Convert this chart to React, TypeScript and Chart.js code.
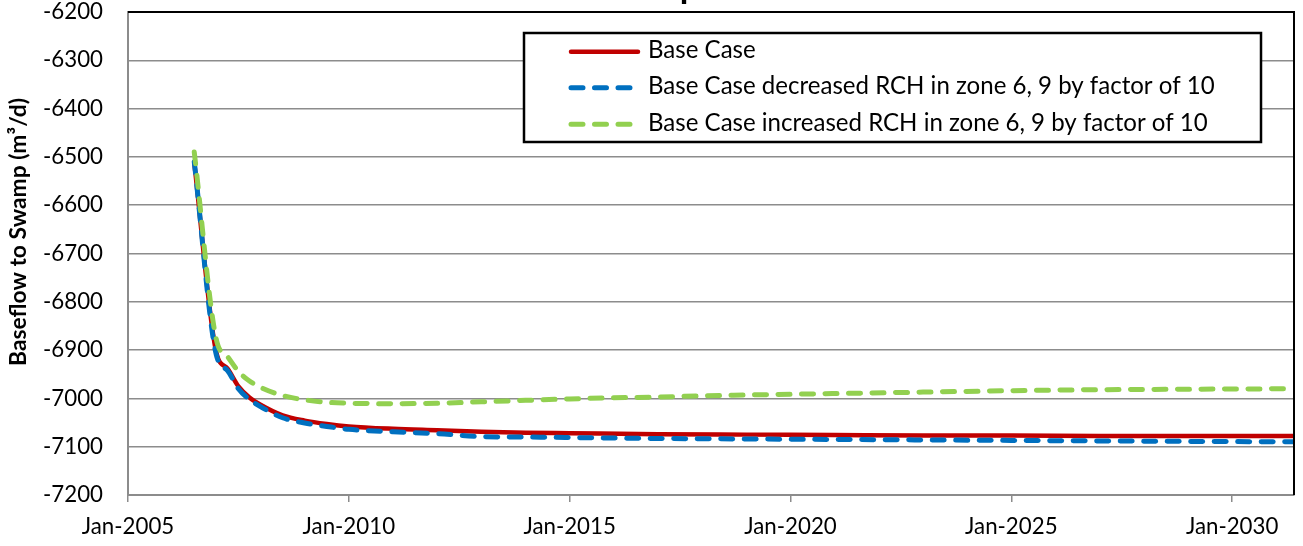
import React, { useEffect, useRef } from "react";
import { Chart, registerables } from "chart.js";

Chart.register(...registerables);

// ---- data ----
const years = [2006.5, 2007.0, 2007.25, 2007.5, 2007.75, 2008, 2008.5, 2009, 2009.5, 2010, 2011, 2012, 2013, 2014, 2015, 2017, 2019, 2021, 2023, 2025, 2027, 2029, 2031.4];
const baseCase = [-6512, -6905, -6938, -6975, -6998, -7013, -7035, -7046, -7053, -7058, -7063, -7066, -7069, -7071, -7072, -7074, -7075, -7076, -7077, -7077, -7078, -7078, -7078];
const decreasedRch = [-6510, -6910, -6942, -6980, -7002, -7017, -7040, -7051, -7058, -7064, -7069, -7073, -7079, -7080, -7081, -7083, -7084, -7085, -7086, -7087, -7088, -7089, -7090];
const increasedRch = [-6490, -6878, -6913, -6944, -6964, -6977, -6994, -7003, -7008, -7010, -7011, -7010, -7007, -7004, -7001, -6997, -6993, -6990, -6987, -6984, -6982, -6981, -6980];
const seriesLabels = [
  "Base Case",
  "Base Case decreased RCH in zone 6, 9 by factor of 10",
  "Base Case increased RCH in zone 6, 9 by factor of 10",
];
const xTickYears = [2005, 2010, 2015, 2020, 2025, 2030];
const yMin = -7200;
const yMax = -6200;
const yStep = 100;
const xMin = 2005;
const xMax = 2031.4;
const yAxisTitle = "Baseflow to Swamp (m\u00B3/d)";
const chartTitle = "Baseflow to the Swamp";

const colors = ["#C00000", "#0070C0", "#92D050"];
const FAMILY = "Lato, 'Open Sans', sans-serif";

function fitSize(text: string, weight: string, target: number) {
  const c = document.createElement("canvas").getContext("2d")!;
  c.font = `${weight} 100px ${FAMILY}`;
  const w = c.measureText(text).width;
  return (100 * target) / w;
}

export default function App() {
  const ref = useRef<HTMLCanvasElement | null>(null);

  useEffect(() => {
    const canvas = ref.current!;
    const tickSize = fitSize("-6200", "normal", 60);
    const legendSize = fitSize(seriesLabels[1], "normal", 567);
    const ytitleSize = fitSize(yAxisTitle, "bold", 268);
    const titleSize = fitSize(chartTitle, "bold", 365);

    const overlay = {
      id: "overlay",
      afterDatasetsDraw(chart: any) {
        const ctx = chart.ctx;
        const a = chart.chartArea;
        ctx.save();
        // top and right border
        ctx.strokeStyle = "#000";
        ctx.lineWidth = 2;
        ctx.beginPath();
        ctx.moveTo(a.left, a.top);
        ctx.lineTo(a.right, a.top);
        ctx.lineTo(a.right, a.bottom);
        ctx.stroke();
        // legend box
        const lx = 524, ly = 33, lw = 737, lh = 109;
        ctx.fillStyle = "#fff";
        ctx.fillRect(lx, ly, lw, lh);
        ctx.strokeStyle = "#000";
        ctx.lineWidth = 2.5;
        ctx.strokeRect(lx, ly, lw, lh);
        const rows = [51.7, 87.7, 124.3];
        const dashes = [[], [12, 11.5], [12, 11.5]];
        const widths = [4.5, 5, 5];
        for (let i = 0; i < 3; i++) {
          ctx.beginPath();
          ctx.strokeStyle = colors[i];
          ctx.lineWidth = widths[i];
          ctx.lineCap = "round";
          ctx.setLineDash(dashes[i]);
          ctx.moveTo(571, rows[i]);
          ctx.lineTo(638, rows[i]);
          ctx.stroke();
          ctx.setLineDash([]);
          ctx.fillStyle = "#000";
          ctx.font = `normal ${legendSize}px ${FAMILY}`;
          ctx.textBaseline = "middle";
          ctx.textAlign = "left";
          ctx.fillText(seriesLabels[i], 648, rows[i] - 1);
        }
        // y axis title
        ctx.translate(19, 232);
        ctx.rotate(-Math.PI / 2);
        ctx.font = `bold ${ytitleSize}px ${FAMILY}`;
        ctx.textAlign = "center";
        ctx.textBaseline = "middle";
        ctx.fillText(yAxisTitle, 0, 0);
        ctx.restore();
        // clipped chart title (only its lowest edge shows in the reference)
        ctx.save();
        ctx.font = `bold ${titleSize}px ${FAMILY}`;
        ctx.textAlign = "center";
        ctx.textBaseline = "alphabetic";
        ctx.fillStyle = "#000";
        ctx.fillText(chartTitle, 517, -2.5);
        ctx.restore();
      },
    };

    const mk = (vals: number[]) => years.map((x, i) => ({ x, y: vals[i] }));

    const chart = new Chart(canvas, {
      type: "line",
      data: {
        datasets: [
          {
            label: seriesLabels[0],
            data: mk(baseCase),
            borderColor: colors[0],
            borderWidth: 4.5,
            pointRadius: 0,
            cubicInterpolationMode: "monotone",
            order: 3,
          },
          {
            label: seriesLabels[1],
            data: mk(decreasedRch),
            borderColor: colors[1],
            borderWidth: 5,
            borderDash: [12, 11.5],
            borderCapStyle: "round",
            pointRadius: 0,
            cubicInterpolationMode: "monotone",
            order: 2,
          },
          {
            label: seriesLabels[2],
            data: mk(increasedRch),
            borderColor: colors[2],
            borderWidth: 5,
            borderDash: [12, 11.5],
            borderCapStyle: "round",
            pointRadius: 0,
            cubicInterpolationMode: "monotone",
            order: 1,
          },
        ],
      },
      options: {
        responsive: false,
        animation: false,
        layout: { padding: { top: 12, right: 9, left: 0, bottom: 0 } },
        plugins: {
          legend: { display: false },
          tooltip: { enabled: false },
          title: { display: false },
        },
        scales: {
          x: {
            type: "linear",
            min: xMin,
            max: xMax,
            afterBuildTicks: (s: any) => {
              s.ticks = xTickYears.map((v) => ({ value: v }));
            },
            afterFit: (s: any) => {
              s.height = 51;
              s.paddingLeft = 0;
              s.paddingRight = 0;
            },
            grid: {
              drawOnChartArea: false,
              drawTicks: true,
              tickLength: 7,
              color: "#8C8C8C",
              lineWidth: 1.5,
            },
            border: { color: "#8C8C8C", width: 2 },
            ticks: {
              autoSkip: false,
              maxRotation: 0,
              padding: 11,
              color: "#000",
              font: { family: FAMILY, size: tickSize },
              callback: (v: any) => "Jan-" + v,
            },
          },
          y: {
            min: yMin,
            max: yMax,
            afterFit: (s: any) => {
              s.width = 128;
              s.paddingTop = 0;
              s.paddingBottom = 0;
            },
            grid: {
              drawTicks: false,
              color: "#8C8C8C",
              lineWidth: 1.5,
            },
            border: { color: "#8C8C8C", width: 2 },
            ticks: {
              stepSize: yStep,
              padding: 25,
              color: "#000",
              font: { family: FAMILY, size: tickSize },
              callback: (v: any) => String(v),
            },
          },
        },
      },
      plugins: [overlay],
    } as any);

    return () => chart.destroy();
  }, []);

  return (
    <div style={{ position: "absolute", left: 0, top: 0, width: 1303, height: 546, background: "#fff" }}>
      <canvas ref={ref} width={1303} height={546} style={{ display: "block" }} />
    </div>
  );
}
